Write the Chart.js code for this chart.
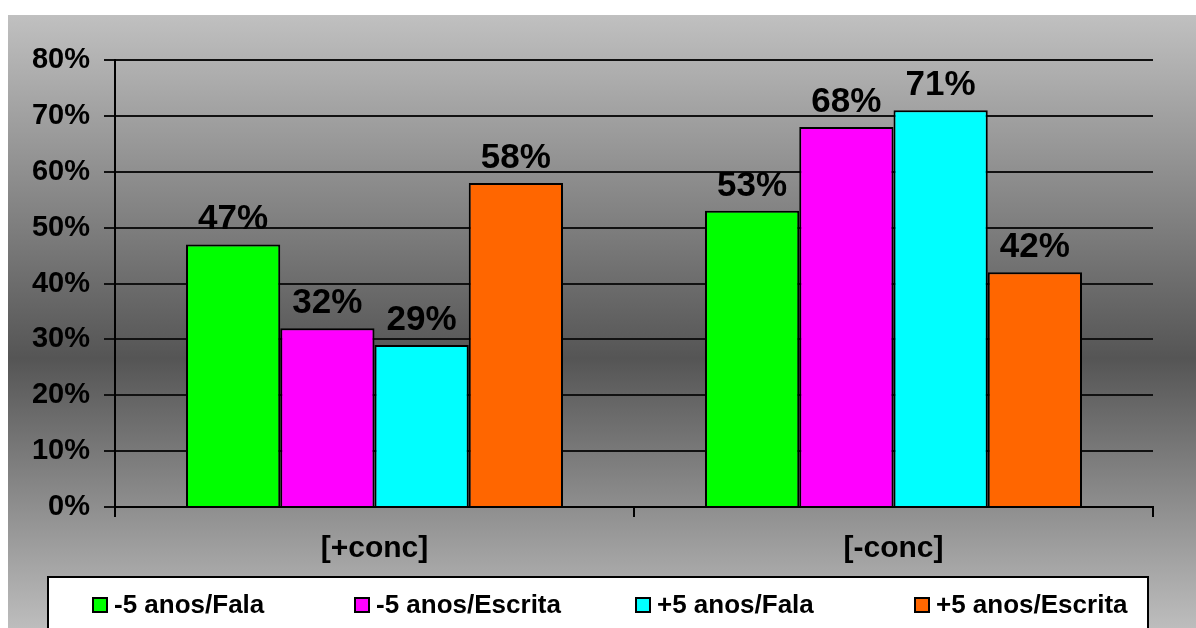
<html>
<head>
<script src="https://cdn.jsdelivr.net/npm/chart.js@4.4.0/dist/chart.umd.min.js"></script>
<style>
  body { margin: 0; background: #ffffff; }
</style>
</head>
<body>
<canvas id="chart" width="1196" height="628"></canvas>
<script>
// categories and series (values in %)
var categories = ["[+conc]", "[-conc]"];
var seriesNames = ["-5 anos/Fala", "-5 anos/Escrita", "+5 anos/Fala", "+5 anos/Escrita"];
var menos5Fala = [47, 53];
var menos5Escrita = [32, 68];
var mais5Fala = [29, 71];
var mais5Escrita = [58, 42];
var yTicks = [0, 10, 20, 30, 40, 50, 60, 70, 80];
var colors = ["#00ff00", "#ff00ff", "#00ffff", "#ff6600"];

var FONT = "'Liberation Sans', Arial, sans-serif";

// gray gradient behind the whole chart
var bgPlugin = {
    id: "bg",
    beforeDraw: function(chart) {
        var ctx = chart.ctx;
        ctx.save();
        ctx.fillStyle = "#ffffff";
        ctx.fillRect(0, 0, chart.width, chart.height);
        var g = ctx.createLinearGradient(0, 15, 0, chart.height);
        g.addColorStop(0, "#c0c0c0");
        g.addColorStop(0.56, "#555555");
        g.addColorStop(1, "#bdbdbd");
        ctx.fillStyle = g;
        ctx.fillRect(8, 15, chart.width - 8, chart.height - 15);
        ctx.restore();
    }
};

// value labels over the bars
var labelPlugin = {
    id: "vals",
    afterDatasetsDraw: function(chart) {
        var ctx = chart.ctx;
        ctx.save();
        ctx.font = "bold 35px " + FONT;
        ctx.fillStyle = "#000";
        ctx.textAlign = "center";
        ctx.textBaseline = "alphabetic";
        chart.data.datasets.forEach(function(ds, i) {
            chart.getDatasetMeta(i).data.forEach(function(bar, j) {
                ctx.fillText(ds.data[j] + "%", bar.x, bar.y - 15);
            });
        });
        ctx.restore();
    }
};

// boxed legend at the bottom
var legendX = [93, 355, 636, 915];
var legendPlugin = {
    id: "boxLegend",
    afterDraw: function(chart) {
        var ctx = chart.ctx;
        var top = chart.height - 51;
        ctx.save();
        ctx.fillStyle = "#ffffff";
        ctx.fillRect(48, top, 1100, 60);
        ctx.strokeStyle = "#000";
        ctx.lineWidth = 2;
        ctx.strokeRect(48, top, 1100, 60);
        ctx.font = "bold 26px " + FONT;
        ctx.textBaseline = "middle";
        ctx.textAlign = "left";
        chart.data.datasets.forEach(function(ds, i) {
            var x = legendX[i];
            var y = top + 28;
            ctx.fillStyle = ds.backgroundColor;
            ctx.fillRect(x, y - 7, 14, 14);
            ctx.lineWidth = 2;
            ctx.strokeRect(x, y - 7, 14, 14);
            ctx.fillStyle = "#000";
            ctx.fillText(ds.label, x + 21, y + 1);
        });
        ctx.restore();
    }
};

var seriesData = [menos5Fala, menos5Escrita, mais5Fala, mais5Escrita];
var datasets = seriesNames.map(function(name, i) {
    return {
        label: name,
        data: seriesData[i],
        backgroundColor: colors[i],
        borderColor: "#000",
        borderWidth: 2,
        categoryPercentage: 0.7264,
        barPercentage: 1
    };
});

new Chart(document.getElementById("chart"), {
    type: "bar",
    data: { labels: categories, datasets: datasets },
    plugins: [bgPlugin, labelPlugin, legendPlugin],
    options: {
        responsive: false,
        animation: false,
        layout: { padding: { top: 60, right: 43, bottom: 51, left: 0 } },
        plugins: {
            legend: { display: false },
            tooltip: { enabled: false }
        },
        scales: {
            x: {
                grid: { display: true, drawOnChartArea: false, offset: true, color: "#000", lineWidth: 2, tickLength: 10 },
                border: { display: true, color: "#000", width: 2 },
                ticks: { color: "#000", font: { family: FONT, size: 30, weight: "bold" }, padding: 14 },
                afterFit: function(scale) {
                    scale.height = 70;
                    scale.paddingLeft = 0;
                    scale.paddingRight = 0;
                }
            },
            y: {
                min: yTicks[0],
                max: yTicks[yTicks.length - 1],
                afterBuildTicks: function(scale) {
                    scale.ticks = yTicks.map(function(v) { return { value: v }; });
                },
                grid: { color: "#111", lineWidth: 2, tickLength: 11 },
                border: { display: true, color: "#000", width: 2 },
                ticks: {
                    color: "#000",
                    font: { family: FONT, size: 29, weight: "bold" },
                    padding: 14,
                    callback: function(v) { return v + "%"; }
                },
                afterFit: function(scale) {
                    scale.width = 115;
                    scale.paddingTop = 0;
                    scale.paddingBottom = 0;
                }
            }
        }
    }
});
</script>
</body>
</html>
